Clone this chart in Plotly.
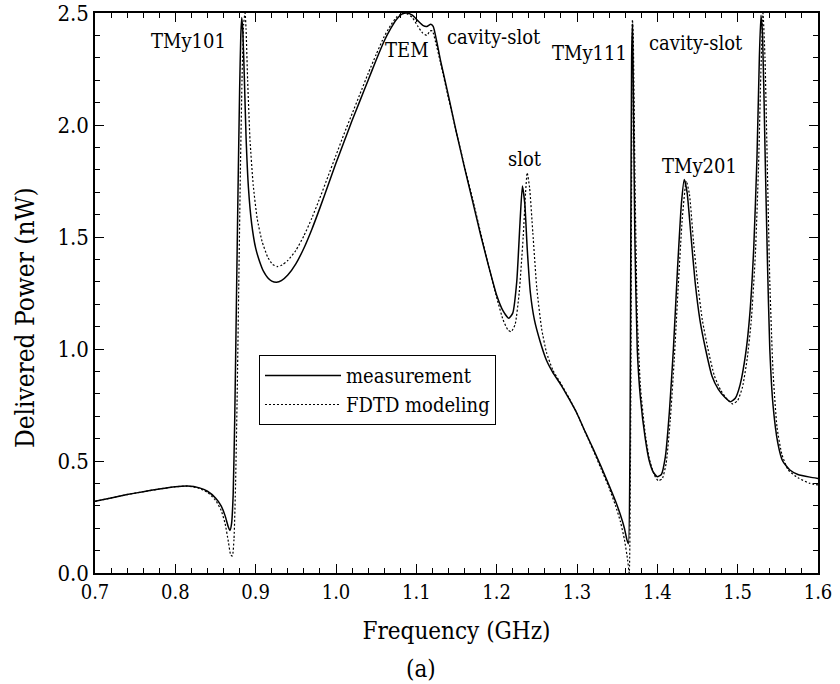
import plotly.graph_objects as go

# Measurement curve (frequency GHz, delivered power nW)
meas_f = [0.700, 0.720, 0.740, 0.760, 0.780, 0.800, 0.815, 0.830, 0.840, 0.850,
          0.857, 0.862, 0.866, 0.868, 0.870, 0.872, 0.874, 0.876, 0.878, 0.880,
          0.8815, 0.8827, 0.884, 0.886, 0.888, 0.891, 0.895, 0.900, 0.905, 0.910,
          0.915, 0.920, 0.926, 0.932, 0.940, 0.950, 0.960, 0.970, 0.980, 0.990,
          1.000, 1.010, 1.020, 1.030, 1.040, 1.050, 1.060, 1.068, 1.075, 1.082,
          1.088, 1.095, 1.102, 1.108, 1.113, 1.118, 1.121, 1.125, 1.130, 1.140,
          1.150, 1.160, 1.170, 1.180, 1.190, 1.200, 1.208, 1.215, 1.220, 1.225,
          1.229, 1.232, 1.235, 1.238, 1.242, 1.247, 1.254, 1.262, 1.270, 1.280,
          1.290, 1.300, 1.310, 1.320, 1.330, 1.340, 1.348, 1.354, 1.359, 1.362,
          1.364, 1.366, 1.367, 1.368, 1.369, 1.370, 1.372, 1.375, 1.379, 1.385,
          1.390, 1.395, 1.400, 1.405, 1.410, 1.415, 1.420, 1.425, 1.430, 1.4335,
          1.437, 1.442, 1.447, 1.453, 1.460, 1.468, 1.476, 1.484, 1.491, 1.497,
          1.503, 1.510, 1.515, 1.520, 1.524, 1.527, 1.529, 1.531, 1.534, 1.537,
          1.540, 1.544, 1.550, 1.556, 1.565, 1.575, 1.590, 1.600]
meas_p = [0.320, 0.335, 0.350, 0.363, 0.375, 0.385, 0.388, 0.380, 0.365, 0.335,
          0.300, 0.255, 0.205, 0.190, 0.220, 0.350, 0.700, 1.200, 1.700, 2.150,
          2.400, 2.480, 2.420, 2.200, 1.950, 1.720, 1.560, 1.450, 1.390, 1.345,
          1.318, 1.303, 1.298, 1.305, 1.330, 1.380, 1.450, 1.535, 1.630, 1.730,
          1.830, 1.925, 2.020, 2.110, 2.200, 2.290, 2.375, 2.430, 2.470, 2.495,
          2.500, 2.490, 2.465, 2.445, 2.440, 2.450, 2.440, 2.380, 2.290, 2.130,
          1.965, 1.810, 1.660, 1.510, 1.370, 1.240, 1.170, 1.137, 1.160, 1.300,
          1.560, 1.728, 1.650, 1.450, 1.250, 1.130, 1.035, 0.950, 0.895, 0.840,
          0.778, 0.712, 0.632, 0.555, 0.475, 0.390, 0.320, 0.260, 0.200, 0.150,
          0.130, 0.600, 1.500, 2.300, 2.450, 2.200, 1.500, 1.000, 0.780, 0.600,
          0.500, 0.450, 0.430, 0.440, 0.520, 0.720, 1.000, 1.350, 1.650, 1.757,
          1.700, 1.500, 1.300, 1.130, 1.000, 0.880, 0.820, 0.785, 0.765, 0.780,
          0.840, 0.980, 1.150, 1.450, 1.850, 2.300, 2.490, 2.400, 1.900, 1.400,
          1.000, 0.750, 0.580, 0.500, 0.460, 0.440, 0.428, 0.422]

# FDTD modeling curve
fdtd_f = [0.700, 0.720, 0.740, 0.760, 0.780, 0.800, 0.815, 0.830, 0.840, 0.850,
          0.857, 0.862, 0.866, 0.869, 0.871, 0.873, 0.875, 0.877, 0.879, 0.881,
          0.883, 0.885, 0.8868, 0.888, 0.890, 0.893, 0.897, 0.902, 0.908, 0.915,
          0.921, 0.927, 0.933, 0.940, 0.950, 0.960, 0.970, 0.980, 0.990, 1.000,
          1.010, 1.020, 1.030, 1.040, 1.050, 1.060, 1.068, 1.075, 1.082, 1.088,
          1.095, 1.102, 1.108, 1.113, 1.117, 1.120, 1.124, 1.130, 1.140, 1.150,
          1.160, 1.170, 1.180, 1.190, 1.200, 1.208, 1.214, 1.218, 1.223, 1.228,
          1.233, 1.236, 1.238, 1.241, 1.245, 1.250, 1.256, 1.262, 1.270, 1.280,
          1.290, 1.300, 1.310, 1.320, 1.330, 1.340, 1.348, 1.354, 1.359, 1.363,
          1.365, 1.367, 1.368, 1.369, 1.370, 1.372, 1.375, 1.379, 1.385, 1.390,
          1.396, 1.401, 1.406, 1.411, 1.416, 1.421, 1.426, 1.431, 1.436, 1.440,
          1.445, 1.450, 1.456, 1.463, 1.471, 1.479, 1.487, 1.494, 1.500, 1.506,
          1.512, 1.517, 1.522, 1.526, 1.529, 1.5315, 1.534, 1.537, 1.540, 1.544,
          1.549, 1.555, 1.563, 1.575, 1.590, 1.600]
fdtd_p = [0.320, 0.335, 0.350, 0.363, 0.375, 0.385, 0.388, 0.378, 0.360, 0.325,
          0.280, 0.220, 0.140, 0.080, 0.076, 0.150, 0.400, 0.800, 1.300, 1.800,
          2.200, 2.450, 2.500, 2.430, 2.200, 1.930, 1.730, 1.580, 1.480, 1.410,
          1.378, 1.368, 1.375, 1.395, 1.440, 1.505, 1.585, 1.675, 1.770, 1.865,
          1.960, 2.050, 2.140, 2.230, 2.315, 2.395, 2.445, 2.480, 2.497, 2.497,
          2.480, 2.440, 2.410, 2.400, 2.420, 2.420, 2.370, 2.280, 2.120, 1.965,
          1.815, 1.670, 1.520, 1.370, 1.230, 1.130, 1.085, 1.077, 1.110, 1.250,
          1.500, 1.700, 1.787, 1.720, 1.520, 1.270, 1.090, 0.985, 0.905, 0.845,
          0.782, 0.712, 0.630, 0.550, 0.465, 0.380, 0.300, 0.230, 0.150, 0.060,
          0.000, 0.800, 1.800, 2.470, 2.400, 1.800, 1.150, 0.830, 0.620, 0.510,
          0.440, 0.412, 0.420, 0.490, 0.680, 0.950, 1.280, 1.580, 1.750, 1.690,
          1.480, 1.300, 1.130, 1.000, 0.880, 0.815, 0.775, 0.755, 0.770, 0.830,
          0.960, 1.130, 1.420, 1.820, 2.250, 2.500, 2.300, 1.800, 1.300, 0.900,
          0.650, 0.530, 0.460, 0.425, 0.400, 0.393]

# Mode labels
label_text = ["TMy101", "TEM", "cavity-slot", "TMy111", "cavity-slot", "slot", "TMy201"]
label_f = [0.817, 1.088, 1.197, 1.316, 1.448, 1.235, 1.452]
label_p = [2.375, 2.335, 2.395, 2.320, 2.365, 1.850, 1.815]

FONT = "DejaVu Serif Condensed"

fig = go.Figure()
fig.add_trace(go.Scatter(x=meas_f, y=meas_p, mode="lines", name="measurement",
                         line=dict(color="black", width=1.5, shape="spline", smoothing=0.5)))
fig.add_trace(go.Scatter(x=fdtd_f, y=fdtd_p, mode="lines", name="FDTD modeling",
                         line=dict(color="black", width=1.2, dash="2px,2px",
                                   shape="spline", smoothing=0.5)))

for t, fx, py in zip(label_text, label_f, label_p):
    fig.add_annotation(x=fx, y=py, text=t, showarrow=False,
                       font=dict(family=FONT, size=20, color="black"))

# y-axis title (placed as rotated text) and panel tag
fig.add_annotation(xref="paper", yref="paper", x=(25 - 95) / 723, y=(573 - 318) / 560,
                   xanchor="center", yanchor="middle", textangle=-90,
                   text="Delivered Power (nW)", showarrow=False,
                   font=dict(family=FONT, size=26, color="black"))
fig.add_annotation(xref="paper", yref="paper", x=(421 - 95) / 723, y=(573 - 669) / 560,
                   xanchor="center", yanchor="middle",
                   text="(a)", showarrow=False,
                   font=dict(family=FONT, size=24, color="black"))

axis_common = dict(
    showline=True, linecolor="black", linewidth=1.5, mirror="allticks",
    ticks="inside", ticklen=9, tickwidth=1.2, tickcolor="black",
    showgrid=False, zeroline=False, ticklabeloverflow="allow",
)

fig.update_xaxes(range=[0.7, 1.6], tick0=0.7, dtick=0.1, tickformat=".1f",
                 minor=dict(dtick=0.02, ticks="inside", ticklen=5, tickwidth=1,
                            tickcolor="black", showgrid=False),
                 tickfont=dict(family=FONT, size=20, color="black"),
                 title=dict(text="Frequency (GHz)", standoff=19,
                            font=dict(family=FONT, size=24, color="black")),
                 **axis_common)
fig.update_yaxes(range=[0, 2.5], tick0=0, dtick=0.5, tickformat=".1f",
                 minor=dict(dtick=0.1, ticks="inside", ticklen=5, tickwidth=1,
                            tickcolor="black", showgrid=False),
                 tickfont=dict(family=FONT, size=22, color="black"),
                 **axis_common)

fig.update_layout(
    width=840, height=684,
    margin=dict(l=95, r=22, t=13, b=111, autoexpand=False),
    plot_bgcolor="white", paper_bgcolor="white",
    font=dict(family=FONT, color="black"),
    legend=dict(x=(259 - 95) / 723, y=(573 - 355) / 560, xanchor="left", yanchor="top",
                bordercolor="black", borderwidth=1, bgcolor="white",
                font=dict(family=FONT, size=20, color="black"),
                tracegroupgap=0, itemwidth=76),
    showlegend=True,
)

fig.write_html("out.html", config={"displayModeBar": False},
               post_script="document.body.style.margin='0';")
